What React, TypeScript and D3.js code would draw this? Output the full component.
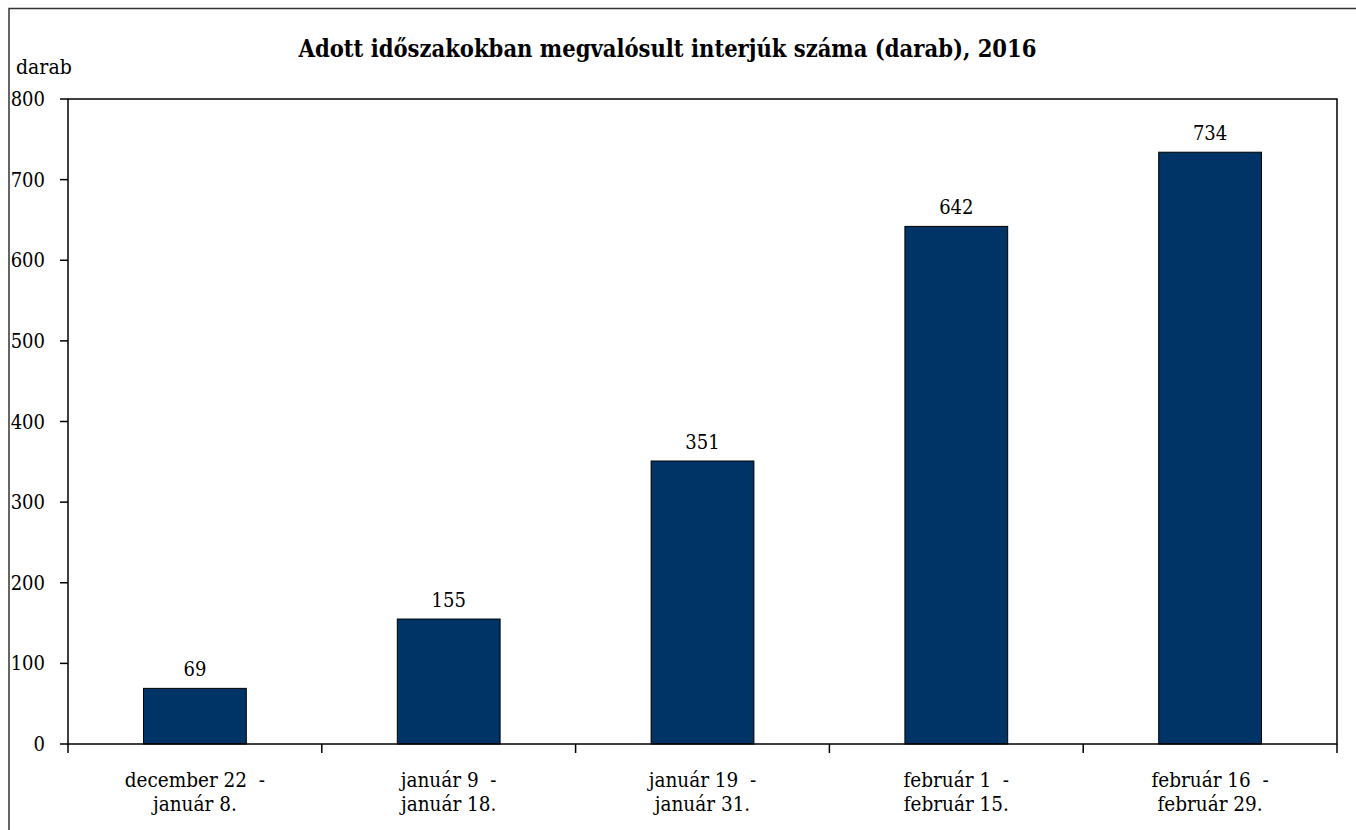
import React, { useEffect } from "react";
import * as d3 from "d3";

const categoriesLine1 = ["december 22  -", "január 9  -", "január 19  -", "február 1  -", "február 16  -"];
const categoriesLine2 = ["január 8.", "január 18.", "január 31.", "február 15.", "február 29."];
const values = [69, 155, 351, 642, 734];
const yTicks = [0, 100, 200, 300, 400, 500, 600, 700, 800];
const title = "Adott időszakokban megvalósult interjúk száma (darab), 2016";
const yUnit = "darab";

const W = 1356;
const H = 830;
const plot = { left: 68, right: 1337, top: 99, bottom: 744 };
const FONT = "'DejaVu Serif Condensed', 'DejaVu Serif', serif";

export default function App() {
  useEffect(() => {
    document.body.style.margin = "0";
    document.body.style.overflow = "hidden";
  }, []);

  const x = d3
    .scaleBand<number>()
    .domain(d3.range(values.length))
    .range([plot.left, plot.right])
    .padding(0);
  const y = d3.scaleLinear().domain([0, 800]).range([plot.bottom, plot.top]);
  const barW = x.bandwidth() * 0.405;
  const boundaries = d3.range(values.length + 1).map((i) => plot.left + i * x.step());
  const txt = { fontFamily: FONT, fontStretch: "condensed" as const };

  return (
    <svg width={W} height={H} style={{ display: "block", background: "#fff" }}>
      <rect x={9} y={8.5} width={W + 20} height={H + 20} fill="#fff" stroke="#333" strokeWidth={1.5} />
      <text x={667.5} y={57} textAnchor="middle" fontWeight="bold" fontSize={23.5} fill="#000" style={txt}>
        {title}
      </text>
      <text x={16} y={74} fontSize={21} fill="#000" style={txt}>
        {yUnit}
      </text>
      {values.map((v, i) => {
        const cx = (x(i) as number) + x.bandwidth() / 2;
        return (
          <g key={i}>
            <rect
              x={cx - barW / 2}
              y={y(v)}
              width={barW}
              height={y(0) - y(v)}
              fill="#003366"
              stroke="#000"
              strokeWidth={1}
            />
            <text x={cx} y={y(v) - 12} textAnchor="middle" fontSize={20} fill="#000" style={txt}>
              {v}
            </text>
            <text
              x={cx}
              y={787}
              textAnchor="middle"
              fontSize={20.5}
              fill="#000"
              style={{ ...txt, whiteSpace: "pre" }}
            >
              {categoriesLine1[i]}
            </text>
            <text x={cx} y={811} textAnchor="middle" fontSize={20.5} fill="#000" style={txt}>
              {categoriesLine2[i]}
            </text>
          </g>
        );
      })}
      <rect
        x={plot.left}
        y={plot.top}
        width={plot.right - plot.left}
        height={plot.bottom - plot.top}
        fill="none"
        stroke="#000"
        strokeWidth={1.5}
      />
      {yTicks.map((t) => (
        <g key={t}>
          <line x1={60} x2={plot.left} y1={y(t)} y2={y(t)} stroke="#000" strokeWidth={1.5} />
          <text x={45} y={y(t)} dy="0.35em" textAnchor="end" fontSize={20} fill="#000" style={txt}>
            {t}
          </text>
        </g>
      ))}
      {boundaries.map((bx, i) => (
        <line key={i} x1={bx} x2={bx} y1={plot.bottom} y2={plot.bottom + 9} stroke="#000" strokeWidth={1.5} />
      ))}
    </svg>
  );
}
